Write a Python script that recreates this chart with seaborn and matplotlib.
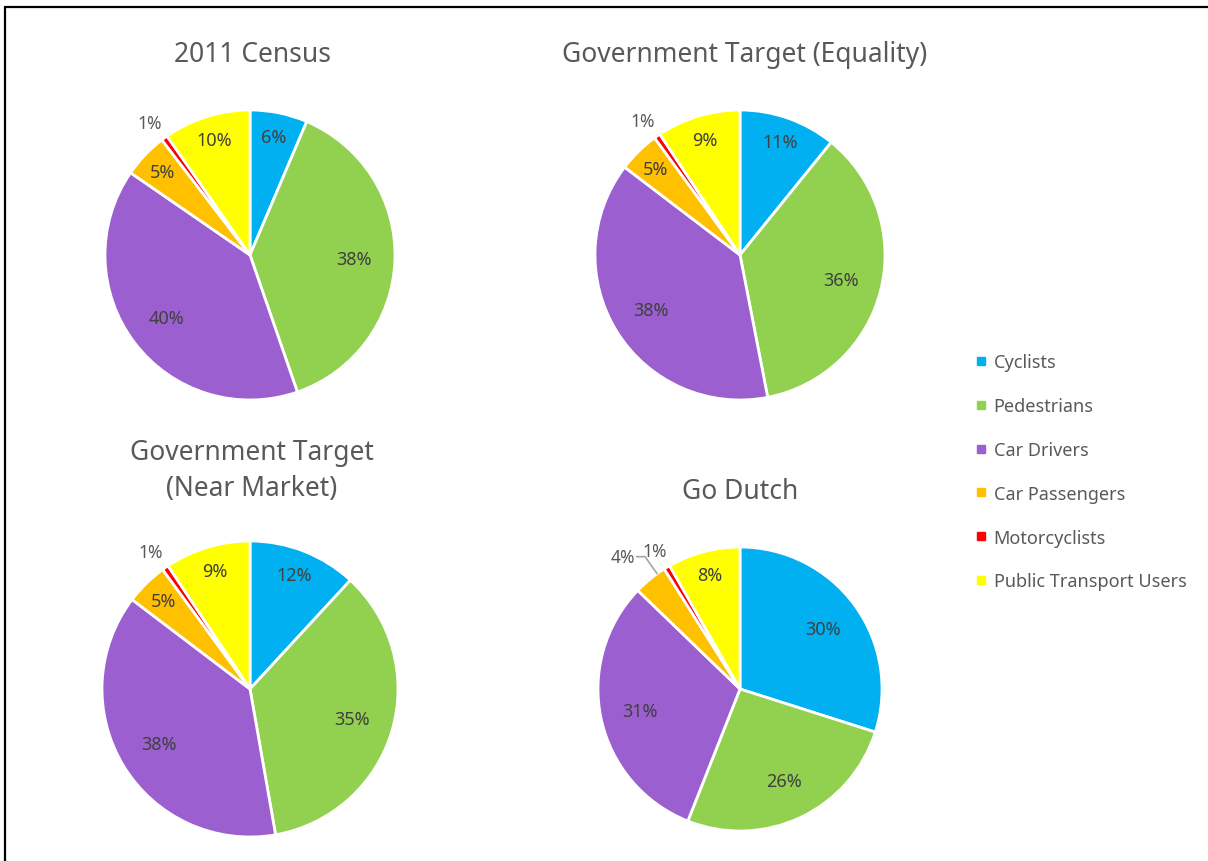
import numpy as np
import matplotlib
matplotlib.use("Agg")
import matplotlib.pyplot as plt
from matplotlib.lines import Line2D
import seaborn as sns

sns.set_theme(style="white")
plt.rcParams["font.family"] = ["Noto Sans", "DejaVu Sans"]

# -----------------------------
# data
# -----------------------------
categories = ["Cyclists", "Pedestrians", "Car Drivers", "Car Passengers",
              "Motorcyclists", "Public Transport Users"]
colors = ["#00B0F0", "#92D050", "#9B5FCF", "#FFC000", "#FF0000", "#FFFF00"]

census_2011 = [6.4, 38.3, 39.9, 5.0, 0.7, 9.7]
gov_equality = [10.8, 36.0, 38.3, 4.6, 0.7, 9.3]
gov_near_market = [11.8, 35.2, 37.9, 4.6, 0.7, 9.3]
go_dutch = [29.7, 25.9, 31.0, 3.8, 0.7, 8.2]

labels_2011 = ["6%", "38%", "40%", "5%", "1%", "10%"]
labels_equality = ["11%", "36%", "38%", "5%", "1%", "9%"]
labels_near_market = ["12%", "35%", "38%", "5%", "1%", "9%"]
labels_dutch = ["30%", "26%", "31%", "4%", "1%", "8%"]

charts = [
    ("2011 Census", census_2011, labels_2011, []),
    ("Government Target (Equality)", gov_equality, labels_equality, []),
    ("Government Target\n(Near Market)", gov_near_market, labels_near_market, []),
    ("Go Dutch", go_dutch, labels_dutch, ["4%"]),
]

# -----------------------------
# layout (pixels)
# -----------------------------
W, H = 1208, 862
fig = plt.figure(figsize=(W / 100, H / 100), dpi=100)

centers = [(250, 256), (740, 256), (250, 690), (740, 690)]
radii = [145, 145, 148, 142]
title_pos = [(252, 55), (745, 55), (252, 471), (740, 492)]
LIM = 1.35

text_grey = "#595959"
label_grey = "#404040"

for (title, vals, labs, leader), (cx, cy), r, (tx, ty) in zip(charts, centers, radii, title_pos):
    side = 2 * r * LIM
    ax = fig.add_axes([(cx - side / 2) / W, 1 - (cy + side / 2) / H, side / W, side / H])
    wedges, _ = ax.pie(vals, colors=colors, startangle=90, counterclock=False,
                       wedgeprops=dict(edgecolor="white", linewidth=2))
    ax.set_xlim(-LIM, LIM)
    ax.set_ylim(-LIM, LIM)
    ax.set_aspect("equal")
    ax.axis("off")

    for w, lab, v in zip(wedges, labs, vals):
        ang = np.deg2rad((w.theta1 + w.theta2) / 2)
        if v < 2:
            ax.text(1.17 * np.cos(ang), 1.13 * np.sin(ang), lab, ha="center", va="center",
                    fontsize=12.5, color=text_grey)
        elif lab in leader:
            # label pulled outside with a leader line
            ex, ey = np.cos(ang - 0.06), np.sin(ang - 0.06)
            kx, ky = ex - 0.085, ey + 0.12
            ax.plot([ex, kx, kx - 0.06], [ey, ky, ky], color="#A6A6A6", lw=1.2)
            ax.text(kx - 0.07, ky, lab, ha="right", va="center", fontsize=12.5, color=text_grey)
        else:
            d = 0.72 if v > 20 else 0.83
            ax.text(d * np.cos(ang), d * np.sin(ang), lab, ha="center", va="center",
                    fontsize=13, color=label_grey)

    fig.text(tx / W, 1 - ty / H, title, ha="center", va="center", fontsize=19,
             color=text_grey, linespacing=1.35)

# legend
handles = [Line2D([], [], marker="s", linestyle="", markersize=6, color=c) for c in colors]
leg = fig.legend(handles, categories, loc="upper left", bbox_to_anchor=(954 / W, 1 - 338 / H),
                 frameon=False, fontsize=13, labelspacing=1.43, handletextpad=0.1,
                 handlelength=1.2)
for t in leg.get_texts():
    t.set_color(text_grey)

# outer frame
fig.add_artist(Line2D([5 / W, 5 / W], [0, 1 - 8 / H], color="black", lw=1.6))
fig.add_artist(Line2D([5 / W, 1], [1 - 8 / H, 1 - 8 / H], color="black", lw=1.6))

fig.savefig("out.png", dpi=100)
